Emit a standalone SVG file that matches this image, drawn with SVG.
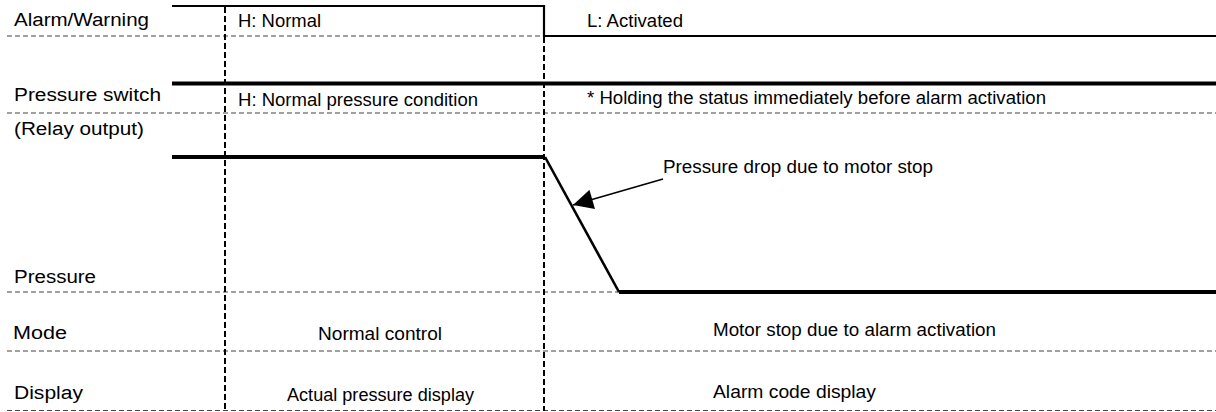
<svg xmlns="http://www.w3.org/2000/svg" width="1216" height="412" viewBox="0 0 1216 412">
<defs>
<style>
text{font-family:"Liberation Sans",Arial,sans-serif;font-size:17.5px;fill:#000}
.lbl{font-size:18px}
.dash{stroke:#444;stroke-width:1.2;stroke-dasharray:5,3;fill:none}
.vdash{stroke:#000;stroke-width:2;stroke-dasharray:6,3;fill:none}
.sig{stroke:#000;stroke-width:2.2;fill:none}
.thick{stroke:#000;stroke-width:4;fill:none}
</style>
<marker id="arr" viewBox="0 0 20 20" refX="20" refY="10" markerWidth="21" markerHeight="20" markerUnits="userSpaceOnUse" orient="auto">
<path d="M0,0 L20,10 L0,20 z" fill="#000"/>
</marker>
</defs>
<rect width="1216" height="412" fill="#fff"/>
<g id="grid">
<line class="dash" x1="7" y1="36" x2="544" y2="36"/>
<line class="dash" x1="7" y1="113" x2="1216" y2="113"/>
<line class="dash" x1="7" y1="292" x2="619" y2="292"/>
<line class="dash" x1="7" y1="351" x2="1216" y2="351"/>
<line class="dash" x1="7" y1="410.5" x2="1216" y2="410.5"/>
<line class="vdash" x1="225" y1="7" x2="225" y2="411"/>
<line class="vdash" x1="544" y1="37" x2="544" y2="411"/>
</g>
<g id="labels">
<text class="lbl" x="14" y="26" textLength="135" lengthAdjust="spacingAndGlyphs">Alarm/Warning</text>
<text class="lbl" x="14" y="101" textLength="147" lengthAdjust="spacingAndGlyphs">Pressure switch</text>
<text class="lbl" x="14" y="135" textLength="130" lengthAdjust="spacingAndGlyphs">(Relay output)</text>
<text class="lbl" x="14" y="283" textLength="82" lengthAdjust="spacingAndGlyphs">Pressure</text>
<text class="lbl" x="13" y="339" textLength="54" lengthAdjust="spacingAndGlyphs">Mode</text>
<text class="lbl" x="14" y="399" textLength="69" lengthAdjust="spacingAndGlyphs">Display</text>
</g>
<g id="alarm-signal">
<polyline class="sig" points="172,6 544,6 544,36 1216,36"/>
<text x="238" y="27" textLength="83" lengthAdjust="spacingAndGlyphs">H: Normal</text>
<text x="587" y="27" textLength="96" lengthAdjust="spacingAndGlyphs">L: Activated</text>
</g>
<g id="pressure-switch-signal">
<line class="thick" x1="172" y1="83.5" x2="1216" y2="83.5"/>
<text x="238" y="106" textLength="240" lengthAdjust="spacingAndGlyphs">H: Normal pressure condition</text>
<text x="587" y="104" textLength="459" lengthAdjust="spacingAndGlyphs">* Holding the status immediately before alarm activation</text>
</g>
<g id="pressure-signal">
<line class="thick" x1="172" y1="157" x2="545" y2="157"/>
<line stroke="#000" stroke-width="2.6" x1="545" y1="157" x2="619" y2="292"/>
<line class="thick" x1="619" y1="292" x2="1216" y2="292"/>
<text x="663" y="173" textLength="270" lengthAdjust="spacingAndGlyphs">Pressure drop due to motor stop</text>
</g>
<g id="mode-row">
<text x="318" y="340" textLength="124" lengthAdjust="spacingAndGlyphs">Normal control</text>
<text x="713" y="336" textLength="283" lengthAdjust="spacingAndGlyphs">Motor stop due to alarm activation</text>
</g>
<g id="display-row">
<text x="287" y="401" textLength="187" lengthAdjust="spacingAndGlyphs">Actual pressure display</text>
<text x="713" y="398" textLength="163" lengthAdjust="spacingAndGlyphs">Alarm code display</text>
</g>
<g id="connectors">
<line x1="663" y1="179" x2="573" y2="205" stroke="#000" stroke-width="1.6" marker-end="url(#arr)"/>
</g>
</svg>
